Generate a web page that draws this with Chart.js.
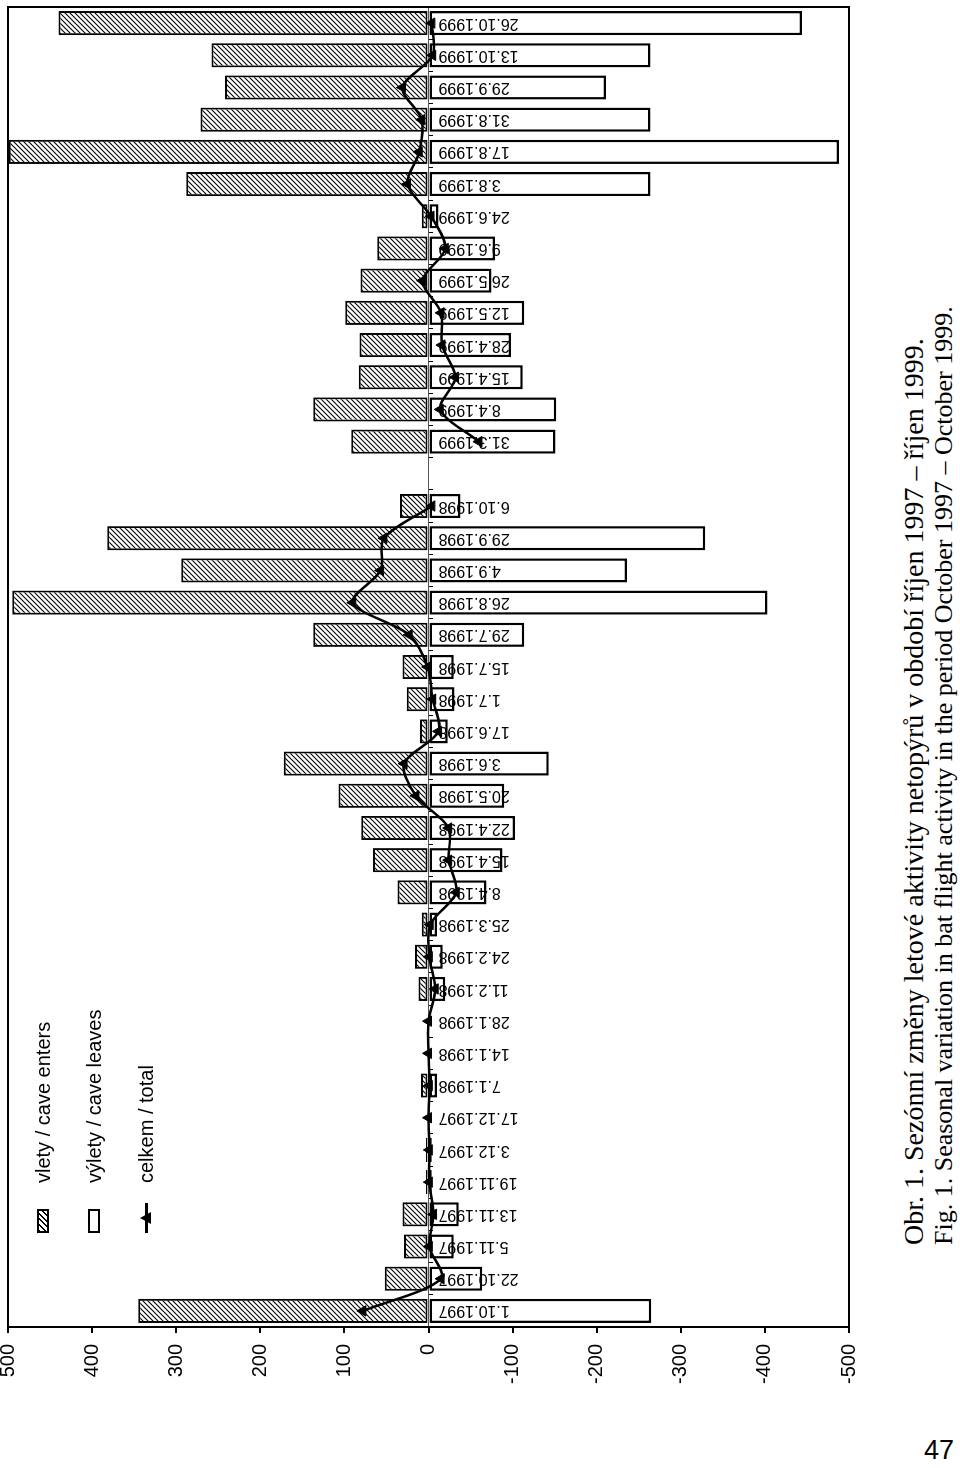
<!DOCTYPE html>
<html><head><meta charset="utf-8">
<script src="https://cdn.jsdelivr.net/npm/chart.js@4.4.1/dist/chart.umd.min.js"></script>
<style>
html,body{margin:0;padding:0;background:#fff;width:960px;height:1468px;overflow:hidden;}
#page{position:absolute;left:0;top:0;width:1468px;height:960px;transform-origin:0 0;transform:translate(0,1468px) rotate(-90deg);}
#c{position:absolute;left:0;top:-15px;}
.lt{position:absolute;font-family:'Liberation Sans',Arial,sans-serif;font-size:20px;line-height:20px;color:#000;white-space:nowrap;}
.sw{position:absolute;box-sizing:border-box;border:2px solid #000;width:24px;height:12px;}
.cap{position:absolute;font-family:'Liberation Serif','Times New Roman',serif;color:#000;white-space:nowrap;}
#pg{position:absolute;left:924px;top:1437px;font-family:'Liberation Sans',Arial,sans-serif;font-size:27px;line-height:27px;color:#000;}
</style></head>
<body>
<div id="page">
  <canvas id="c" width="1468" height="887"></canvas>
  <div class="sw" style="left:235px;top:37px;background:repeating-linear-gradient(135deg,#000 0 1.2px,#fff 1.2px 4px);"></div>
  <div class="lt" style="left:285px;top:33px;">vlety / cave enters</div>
  <div class="sw" style="left:235px;top:88px;background:#fff;"></div>
  <div class="lt" style="left:285px;top:84px;">výlety / cave leaves</div>
  <div style="position:absolute;left:235px;top:145px;width:30px;height:2.5px;background:#000;"></div>
  <div style="position:absolute;left:244px;top:140px;width:0;height:0;border-left:6px solid transparent;border-right:6px solid transparent;border-bottom:11px solid #000;"></div>
  <div class="lt" style="left:285px;top:136px;">celkem / total</div>
  <div class="cap" style="left:223px;top:900px;font-size:28px;line-height:28px;">Obr. 1. Sezónní změny letové aktivity netopýrů v období říjen 1997 – říjen 1999.</div>
  <div class="cap" style="left:223px;top:931px;font-size:26px;line-height:26px;">Fig. 1. Seasonal variation in bat flight activity in the period October 1997 – October 1999.</div>
</div>
<div id="pg">47</div>
<script>
const categories = ['1.10.1997','22.10.1997','5.11.1997','13.11.1997','19.11.1997','3.12.1997','17.12.1997','7.1.1998','14.1.1998','28.1.1998','11.2.1998','24.2.1998','25.3.1998','8.4.1998','15.4.1998','22.4.1998','20.5.1998','3.6.1998','17.6.1998','1.7.1998','15.7.1998','29.7.1998','26.8.1998','4.9.1998','29.9.1998','6.10.1998','','31.3.1999','8.4.1999','15.4.1999','28.4.1999','12.5.1999','26.5.1999','9.6.1999','24.6.1999','3.8.1999','17.8.1999','31.8.1999','29.9.1999','13.10.1999','26.10.1999'];
const enters = [345,52,29,31,3,3,0,9,0,0,12,16,8,37,66,80,107,172,10,26,31,137,495,294,382,34,null,92,137,83,82,99,81,61,8,288,499,271,242,258,440];
const leaves = [-265,-64,-30,-36,-4,-4,0,-10,0,0,-20,-17,-10,-69,-88,-103,-90,-143,-23,-31,-30,-114,-403,-236,-329,-38,null,-151,-152,-112,-98,-114,-75,-79,-12,-264,-488,-264,-211,-264,-444];
const total = [78,-15,-1,-6,-1,-1,0,-1,0,0,-8,-1,-2,-33,-24,-24,15,29,-12,-5,1,23,90,57,53,-4,null,-60,-14,-32,-16,-15,7,-20,-3,25,11,8,31,-5,-4];
const valueMin = -500, valueMax = 500, valueStep = 100;
const seriesNames = ['vlety / cave enters','výlety / cave leaves','celkem / total'];

function makeHatch(){
  const p = document.createElement('canvas');
  p.width = 5; p.height = 5;
  const g = p.getContext('2d');
  g.fillStyle = '#fff'; g.fillRect(0,0,5,5);
  g.strokeStyle = '#000'; g.lineWidth = 1.1;
  g.beginPath();
  g.moveTo(-1,6); g.lineTo(6,-1);
  g.moveTo(-1,1); g.lineTo(1,-1);
  g.moveTo(4,6); g.lineTo(6,4);
  g.stroke();
  return g.createPattern(p,'repeat');
}

Chart.defaults.font.family = "'Liberation Sans', Arial, sans-serif";
Chart.defaults.color = '#000';

const framePlugin = {
  id:'frame',
  afterDraw(chart){
    const a = chart.chartArea, c = chart.ctx;
    c.save(); c.strokeStyle = '#000'; c.lineWidth = 2;
    c.strokeRect(a.left, a.top, a.right - a.left, a.bottom - a.top);
    c.restore();
  }
};

new Chart(document.getElementById('c'), {
  type:'bar',
  data:{
    labels: categories,
    datasets:[
      {label:seriesNames[0], data:enters, backgroundColor:makeHatch(), borderColor:'#000', borderWidth:2, borderSkipped:false, grouped:false, barPercentage:0.75, categoryPercentage:1, order:2},
      {label:seriesNames[1], data:leaves, backgroundColor:'#fff', borderColor:'#000', borderWidth:2.5, borderSkipped:false, grouped:false, barPercentage:0.75, categoryPercentage:1, order:1},
      {type:'line', label:seriesNames[2], data:total, borderColor:'#000', backgroundColor:'#000', borderWidth:2.5, pointStyle:'triangle', pointRadius:6, pointBorderWidth:1, tension:0.3, spanGaps:false, order:0}
    ]
  },
  options:{
    responsive:false, animation:false, devicePixelRatio:1,
    layout:{padding:{left:0,right:3,top:23,bottom:23}},
    plugins:{legend:{display:false}, tooltip:{enabled:false}},
    scales:{
      x:{
        position:{y:0}, offset:true,
        grid:{display:true, drawOnChartArea:false, drawTicks:true, tickLength:4, offset:true, color:'#000', lineWidth:1},
        border:{display:true, color:'#555', width:1, dash:[2,2]},
        ticks:{minRotation:90, maxRotation:90, autoSkip:false, padding:6, color:'#000', font:{size:16}, z:1},
        afterFit(s){ s.paddingLeft = 0; s.paddingRight = 0; }
      },
      y:{
        min:valueMin, max:valueMax,
        ticks:{stepSize:valueStep, color:'#000', font:{size:20}, padding:11},
        grid:{display:true, drawOnChartArea:false, drawTicks:true, tickLength:6, color:'#000', lineWidth:2},
        border:{display:true, color:'#000', width:2},
        afterFit(s){ s.width = 141; s.paddingTop = 0; s.paddingBottom = 0; }
      }
    }
  },
  plugins:[framePlugin]
});
</script>
</body></html>
